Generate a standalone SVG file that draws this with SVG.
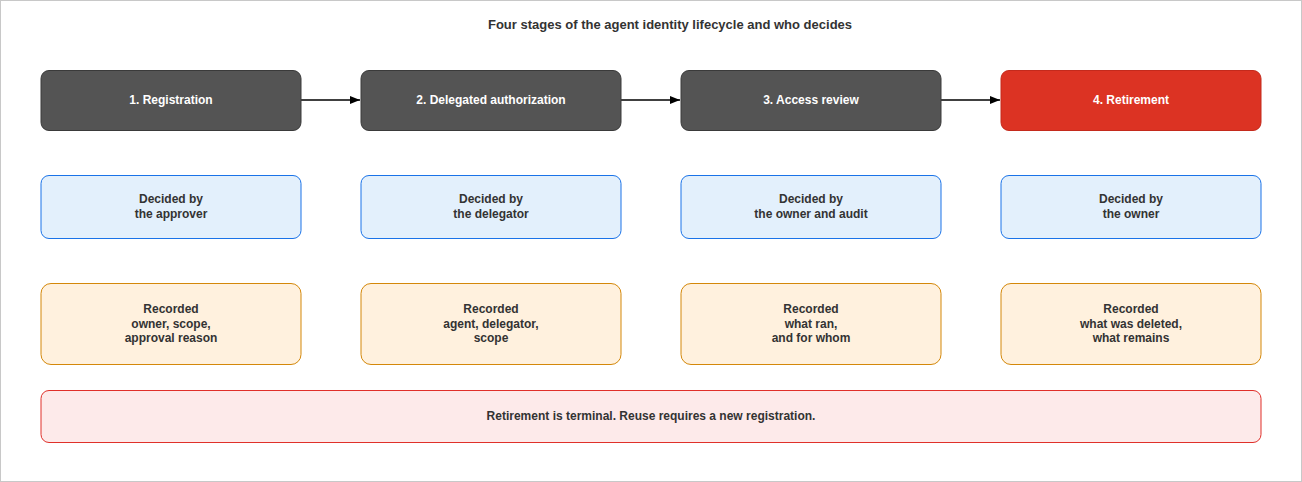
<svg xmlns="http://www.w3.org/2000/svg" width="1302" height="482" viewBox="0 0 1302 482">
<style>
text{font-family:"Liberation Sans",Arial,sans-serif;font-weight:bold;font-size:12px;text-anchor:middle;fill:#333}
.stage{fill:#545454;stroke:#3a3a3a}
.stage text,.w{fill:#fff}
.dec{fill:#e3f0fc;stroke:#1a73e8}
.rec{fill:#fff1de;stroke:#d4880a}
.note{fill:#fdeaea;stroke:#e0302a}
.conn{stroke:#000;stroke-width:1.3;fill:none}
</style>
<defs><marker id="a" viewBox="0 0 10 10" refX="10" refY="5" markerWidth="8" markerHeight="8" orient="auto"><path d="M0,1 L10,5 L0,9z" fill="#000"/></marker></defs>
<rect x="0.5" y="0.5" width="1301" height="481" fill="#fff" stroke="#c8c8c8"/>
<text x="670" y="29" font-size="13" style="font-size:13px">Four stages of the agent identity lifecycle and who decides</text>
<g id="connectors">
<line class="conn" x1="301" y1="100" x2="360" y2="100" marker-end="url(#a)"/>
<line class="conn" x1="621" y1="100" x2="680" y2="100" marker-end="url(#a)"/>
<line class="conn" x1="941" y1="100" x2="1000" y2="100" marker-end="url(#a)"/>
</g>
<g id="s1"><rect class="stage" x="41" y="70.5" width="260" height="60" rx="8"/><text class="w" x="171" y="104">1. Registration</text></g>
<g id="s2"><rect class="stage" x="361" y="70.5" width="260" height="60" rx="8"/><text class="w" x="491" y="104">2. Delegated authorization</text></g>
<g id="s3"><rect class="stage" x="681" y="70.5" width="260" height="60" rx="8"/><text class="w" x="811" y="104">3. Access review</text></g>
<g id="s4"><rect x="1001" y="70.5" width="260" height="60" rx="8" fill="#dc3323" stroke="#c42a1c"/><text class="w" x="1131" y="104">4. Retirement</text></g>
<g id="d1"><rect class="dec" x="41" y="175.5" width="260" height="63" rx="8"/><text x="171" y="203">Decided by</text><text x="171" y="218">the approver</text></g>
<g id="d2"><rect class="dec" x="361" y="175.5" width="260" height="63" rx="8"/><text x="491" y="203">Decided by</text><text x="491" y="218">the delegator</text></g>
<g id="d3"><rect class="dec" x="681" y="175.5" width="260" height="63" rx="8"/><text x="811" y="203">Decided by</text><text x="811" y="218">the owner and audit</text></g>
<g id="d4"><rect class="dec" x="1001" y="175.5" width="260" height="63" rx="8"/><text x="1131" y="203">Decided by</text><text x="1131" y="218">the owner</text></g>
<g id="r1"><rect class="rec" x="41" y="283.5" width="260" height="81" rx="10"/><text x="171" y="313">Recorded</text><text x="171" y="328">owner, scope,</text><text x="171" y="342">approval reason</text></g>
<g id="r2"><rect class="rec" x="361" y="283.5" width="260" height="81" rx="10"/><text x="491" y="313">Recorded</text><text x="491" y="328">agent, delegator,</text><text x="491" y="342">scope</text></g>
<g id="r3"><rect class="rec" x="681" y="283.5" width="260" height="81" rx="10"/><text x="811" y="313">Recorded</text><text x="811" y="328">what ran,</text><text x="811" y="342">and for whom</text></g>
<g id="r4"><rect class="rec" x="1001" y="283.5" width="260" height="81" rx="10"/><text x="1131" y="313">Recorded</text><text x="1131" y="328">what was deleted,</text><text x="1131" y="342">what remains</text></g>
<g id="note"><rect class="note" x="41" y="390.5" width="1220" height="52" rx="8"/><text x="651" y="420">Retirement is terminal. Reuse requires a new registration.</text></g>
</svg>
